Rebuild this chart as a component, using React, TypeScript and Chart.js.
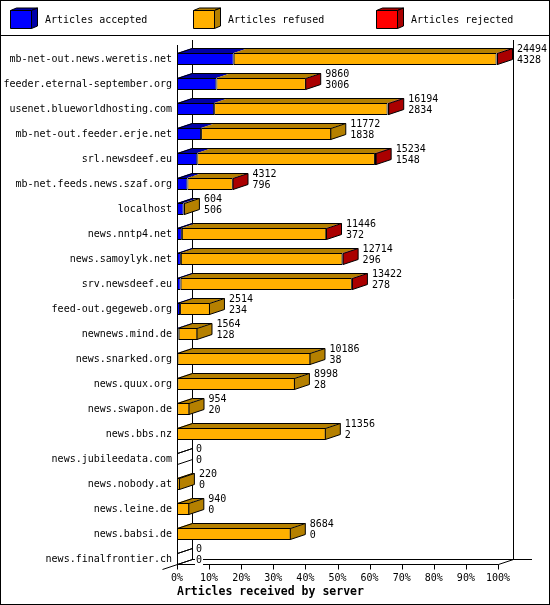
import { useEffect, useRef } from "react";
import { Chart, registerables } from "chart.js";

Chart.register(...registerables);

const servers = [
  "mb-net-out.news.weretis.net",
  "feeder.eternal-september.org",
  "usenet.blueworldhosting.com",
  "mb-net-out.feeder.erje.net",
  "srl.newsdeef.eu",
  "mb-net.feeds.news.szaf.org",
  "localhost",
  "news.nntp4.net",
  "news.samoylyk.net",
  "srv.newsdeef.eu",
  "feed-out.gegeweb.org",
  "newnews.mind.de",
  "news.snarked.org",
  "news.quux.org",
  "news.swapon.de",
  "news.bbs.nz",
  "news.jubileedata.com",
  "news.nobody.at",
  "news.leine.de",
  "news.babsi.de",
  "news.finalfrontier.ch",
];

const offered = [24494, 9860, 16194, 11772, 15234, 4312, 604, 11446, 12714, 13422, 2514, 1564, 10186, 8998, 954, 11356, 0, 220, 940, 8684, 0];
const accepted = [4328, 3006, 2834, 1838, 1548, 796, 506, 372, 296, 278, 234, 128, 38, 28, 20, 2, 0, 0, 0, 0, 0];
const refused = [20051, 6824, 13230, 9934, 13556, 3456, 98, 11014, 12328, 13064, 2280, 1436, 10148, 8970, 934, 11354, 0, 220, 940, 8684, 0];
const rejected = [115, 30, 130, 0, 130, 60, 0, 60, 90, 80, 0, 0, 0, 0, 0, 0, 0, 0, 0, 0, 0];

const seriesLabels = ["Articles accepted", "Articles refused", "Articles rejected"];
const frontColors = ["#0000ff", "#ffb000", "#ff0000"];
const sideColors = ["#0000a8", "#b58000", "#aa0000"];
const xTickStep = 10;
const axisTitle = "Articles received by server";

const MONO = '"DejaVu Sans Mono", monospace';
const DX = 15;
const DY = 5;
const BAR = 12;

function poly(ctx: CanvasRenderingContext2D, pts: number[][], fill?: string, stroke = true) {
  ctx.beginPath();
  ctx.moveTo(pts[0][0], pts[0][1]);
  for (let i = 1; i < pts.length; i++) ctx.lineTo(pts[i][0], pts[i][1]);
  ctx.closePath();
  if (fill) {
    ctx.fillStyle = fill;
    ctx.fill();
  }
  if (stroke) ctx.stroke();
}

function line(ctx: CanvasRenderingContext2D, pts: number[][]) {
  ctx.beginPath();
  ctx.moveTo(pts[0][0], pts[0][1]);
  for (let i = 1; i < pts.length; i++) ctx.lineTo(pts[i][0], pts[i][1]);
  ctx.stroke();
}

const threeD = {
  id: "threeD",
  beforeDraw(chart: any) {
    const { ctx, width, height } = chart;
    ctx.save();
    ctx.fillStyle = "#fff";
    ctx.fillRect(0, 0, width, height);
    ctx.restore();
  },
  beforeDatasetsDraw(chart: any) {
    const { ctx } = chart;
    const xs = chart.scales.x;
    const ys = chart.scales.y;
    const x0 = Math.round(xs.getPixelForValue(0));
    const x1 = Math.round(xs.getPixelForValue(100));
    const firstC = ys.getPixelForValue(0);
    const lastC = ys.getPixelForValue(servers.length - 1);
    const floor = Math.round(lastC + BAR / 2) - 0.5;
    const topF = Math.round(firstC - 14);
    ctx.save();
    ctx.strokeStyle = "#000";
    ctx.lineWidth = 1;
    // walls
    line(ctx, [[x0 + 0.5, topF], [x0 + 0.5, floor]]);
    line(ctx, [[x0 + DX + 0.5, topF - DY], [x0 + DX + 0.5, floor - DY]]);
    line(ctx, [[x1 + DX + 0.5, topF - DY], [x1 + DX + 0.5, floor - DY]]);
    line(ctx, [[x0 + DX, floor - DY], [x1 + DX + 19, floor - DY]]);
    // floor front
    line(ctx, [[x0, floor], [x1 + 0.5, floor]]);
    line(ctx, [[x1 + 0.5, floor], [x1 + DX + 0.5, floor - DY]]);
    line(ctx, [[x0 + 0.5, floor], [x0 + DX + 0.5, floor - DY]]);
    line(ctx, [[x0 + 0.5, floor], [x0 - DX + 0.5, floor + DY]]);
    // ticks
    xs.ticks.forEach((t: any) => {
      const px = Math.round(xs.getPixelForValue(t.value)) + 0.5;
      line(ctx, [[px, floor], [px, floor + 5]]);
    });
    ctx.restore();
  },
  afterDatasetsDraw(chart: any) {
    const { ctx } = chart;
    const xs = chart.scales.x;
    const ys = chart.scales.y;
    const x0 = xs.getPixelForValue(0);
    ctx.save();
    ctx.lineWidth = 1;
    ctx.strokeStyle = "#000";
    servers.forEach((_, i) => {
      const c = ys.getPixelForValue(i);
      const yT = c - BAR / 2;
      const yB = c + BAR / 2;
      let end = x0;
      let last = -1;
      chart.data.datasets.forEach((ds: any, k: number) => {
        const v = ds.data[i];
        if (v == null) return;
        const el = chart.getDatasetMeta(k).data[i];
        const s = el.base;
        const e = el.x;
        poly(ctx, [[s, yT], [e, yT], [e + DX, yT - DY], [s + DX, yT - DY]], sideColors[k], false);
        end = e;
        last = k;
      });
      const sx = last >= 0 ? end - 0.5 : Math.round(x0) + 0.5;
      // top outline
      line(ctx, [
        [Math.round(x0) + 0.5, yT + 0.5],
        [Math.round(x0) + DX + 0.5, yT - DY + 0.5],
        [sx + DX, yT - DY + 0.5],
      ]);
      // side face
      poly(
        ctx,
        [[sx, yT + 0.5], [sx + DX, yT - DY + 0.5], [sx + DX, yB - DY - 0.5], [sx, yB - 0.5]],
        last >= 0 ? sideColors[last] : undefined,
        true
      );
      // value labels
      ctx.font = `10px ${MONO}`;
      ctx.textBaseline = "middle";
      ctx.textAlign = "left";
      const tx = end + DX + 4;
      [String(offered[i]), String(accepted[i])].forEach((txt, j) => {
        const ty = j === 0 ? c - 10 : c + 1.5;
        const w = ctx.measureText(txt).width;
        ctx.fillStyle = "#fff";
        ctx.fillRect(tx - 1, ty - 5, w + 2, 10);
        ctx.fillStyle = "#000";
        ctx.fillText(txt, tx, ty);
      });
    });
    ctx.restore();
  },
  afterDraw(chart: any) {
    const { ctx, width, height } = chart;
    ctx.save();
    ctx.strokeStyle = "#000";
    ctx.lineWidth = 1;
    // legend
    chart.data.datasets.forEach((ds: any, k: number) => {
      const lx = 10 + k * 183;
      const ly = 10;
      const w = 21;
      const h = 18;
      const dx = 6;
      const dy = 2.5;
      poly(ctx, [[lx + 0.5, ly + 0.5], [lx + w + 0.5, ly + 0.5], [lx + w + dx + 0.5, ly - dy + 0.5], [lx + dx + 0.5, ly - dy + 0.5]], sideColors[k]);
      poly(ctx, [[lx + w + 0.5, ly + 0.5], [lx + w + dx + 0.5, ly - dy + 0.5], [lx + w + dx + 0.5, ly + h - dy + 0.5], [lx + w + 0.5, ly + h + 0.5]], sideColors[k]);
      poly(ctx, [[lx + 0.5, ly + 0.5], [lx + w + 0.5, ly + 0.5], [lx + w + 0.5, ly + h + 0.5], [lx + 0.5, ly + h + 0.5]], frontColors[k]);
      ctx.fillStyle = "#000";
      ctx.font = `10px ${MONO}`;
      ctx.textBaseline = "middle";
      ctx.textAlign = "left";
      ctx.fillText(ds.label, lx + 35, ly + h / 2 + 1);
    });
    // frame
    ctx.strokeRect(0.5, 0.5, width - 1, height - 1);
    line(ctx, [[0, 35.5], [width, 35.5]]);
    ctx.restore();
  },
};

export default function App() {
  const ref = useRef<HTMLCanvasElement>(null);
  useEffect(() => {
    document.body.style.margin = "0";
    const canvas = ref.current!;
    const max = Math.max(...offered);
    const pct = (v: number) => (v > 0 ? (v / max) * 100 : null);
    const series = [accepted, refused, rejected];
    const chart = new Chart(canvas, {
      type: "bar",
      data: {
        labels: servers,
        datasets: seriesLabels.map((label, k) => ({
          label,
          data: series[k].map(pct),
          backgroundColor: frontColors[k],
          borderColor: "#000",
          borderWidth: 1,
          borderSkipped: false,
          inflateAmount: 0,
          barThickness: BAR,
        })) as any,
      },
      options: {
        indexAxis: "y",
        responsive: false,
        animation: false,
        events: [],
        devicePixelRatio: 1,
        layout: { padding: { top: 46.5, right: 52, bottom: 6.1, left: 0 } },
        plugins: { legend: { display: false }, tooltip: { enabled: false } },
        scales: {
          x: {
            type: "linear",
            stacked: true,
            min: 0,
            max: 100,
            position: "bottom",
            grid: { display: false, drawTicks: false },
            border: { display: false },
            ticks: {
              stepSize: xTickStep,
              padding: 1,
              color: "#000",
              font: { family: MONO, size: 10 },
              maxRotation: 0,
              autoSkip: false,
              callback: (v: any) => `${v}%`,
            },
            title: {
              display: true,
              text: axisTitle,
              align: "start",
              color: "#000",
              font: { family: MONO, size: 11.5, weight: "bold" },
              padding: 0,
            },
            afterFit: (s: any) => {
              s.height = 27.4;
            },
          },
          y: {
            stacked: true,
            grid: { display: false, drawTicks: false },
            border: { display: false },
            ticks: {
              padding: 5,
              color: "#000",
              font: { family: MONO, size: 10 },
              autoSkip: false,
            },
            afterFit: (s: any) => {
              s.width = 177;
            },
          },
        },
      } as any,
      plugins: [threeD],
    });
    return () => chart.destroy();
  }, []);
  return <canvas ref={ref} width={550} height={605} style={{ display: "block" }} />;
}
